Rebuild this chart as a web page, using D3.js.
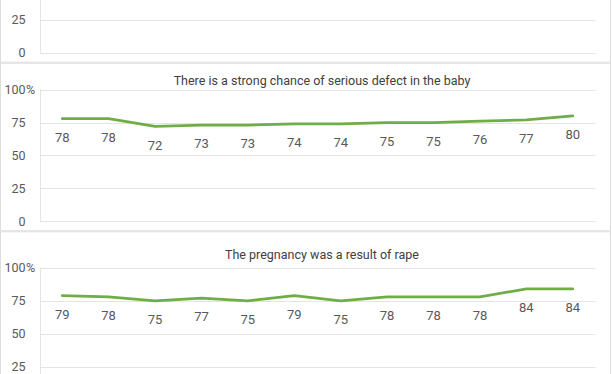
<!DOCTYPE html>
<html>
<head>
<meta charset="utf-8">
<script src="https://cdn.jsdelivr.net/npm/d3@7"></script>
<style>
  body { margin: 0; background: #fff; }
  svg { display: block; font-family: Roboto, "Noto Sans", sans-serif; }
</style>
</head>
<body>
<div id="graph"></div>
<script>
// survey waves (x categories, labels not shown in this crop)
var waves = [1, 2, 3, 4, 5, 6, 7, 8, 9, 10, 11, 12];
var yTicks = [0, 25, 50, 75, 100];

var defectTitle = "There is a strong chance of serious defect in the baby";
var defectValues = [78, 78, 72, 73, 73, 74, 74, 75, 75, 76, 77, 80];

var rapeTitle = "The pregnancy was a result of rape";
var rapeValues = [79, 78, 75, 77, 75, 79, 75, 78, 78, 78, 84, 84];

var w = 612, h = 374;
var green = "#70ad47";

var svg = d3.select("#graph")
            .append("svg")
            .attr("width", w)
            .attr("height", h);

var x = d3.scalePoint()
            .domain(waves)
            .range([39, 596])
            .padding(0.5);

// panels: box top/bottom, zero line and 100% line in pixels
var panels = [
    { top: -200, bottom: 62.2, zero: 52.7, full: -79.9, title: null, titleY: 0, values: null },
    { top: 63.2, bottom: 230.8, zero: 221.3, full: 89.6, title: defectTitle, titleY: 81, values: defectValues },
    { top: 231.8, bottom: 560, zero: 400.2, full: 267.7, title: rapeTitle, titleY: 255, values: rapeValues }
];

panels.forEach(function(p) {
    var g = svg.append("g");

    g.append("rect")
        .attr("x", 0.5)
        .attr("y", p.top)
        .attr("width", 610)
        .attr("height", p.bottom - p.top)
        .attr("fill", "#fff")
        .attr("stroke", "#dddddd");

    var y = d3.scaleLinear()
                .domain([0, 100])
                .range([p.zero, p.full]);

    // only the ticks that fall inside the page
    var shown = yTicks.filter(function(d) { return y(d) > 0 && y(d) < h; });

    // gridlines
    g.append("g")
        .selectAll("line")
        .data(yTicks)
        .enter()
            .append("line")
            .attr("x1", 40)
            .attr("x2", 595.5)
            .attr("y1", function(d) { return Math.round(y(d)) + 0.5; })
            .attr("y2", function(d) { return Math.round(y(d)) + 0.5; })
            .attr("stroke", "#e4e4e4");

    g.append("line")
        .attr("x1", 40.5).attr("x2", 40.5)
        .attr("y1", y(100)).attr("y2", y(0))
        .attr("stroke", "#e4e4e4");

    // tick labels
    g.append("g")
        .selectAll("text")
        .data(shown)
        .enter()
            .append("text")
            .attr("x", 25.5)
            .attr("y", function(d) { return y(d); })
            .attr("dy", "0.35em")
            .attr("text-anchor", "end")
            .attr("fill", "#595959")
            .style("font-size", "12.5px")
            .text(function(d) { return d; });

    if (shown.indexOf(100) >= 0) {
        g.append("text")
            .attr("x", 26)
            .attr("y", y(100))
            .attr("dy", "0.35em")
            .attr("fill", "#595959")
            .style("font-size", "12.5px")
            .text("%");
    }

    if (p.title) {
        g.append("text")
            .attr("x", 322)
            .attr("y", p.titleY)
            .attr("dy", "0.35em")
            .attr("text-anchor", "middle")
            .attr("fill", "#404040")
            .style("font-size", "12.5px")
            .text(p.title);
    }

    if (p.values) {
        var line = d3.line()
            .x(function(d, i) { return x(waves[i]); })
            .y(function(d) { return y(d); });

        g.append("path")
            .datum(p.values)
            .attr("d", line)
            .attr("fill", "none")
            .attr("stroke", green)
            .attr("stroke-width", 2.75)
            .attr("stroke-linejoin", "round")
            .attr("stroke-linecap", "round");

        g.append("g")
            .selectAll("text")
            .data(p.values)
            .enter()
                .append("text")
                .attr("x", function(d, i) { return x(waves[i]); })
                .attr("y", function(d) { return y(d) + 18.7; })
                .attr("dy", "0.35em")
                .attr("text-anchor", "middle")
                .attr("fill", "#595959")
                .style("font-size", "13px")
                .text(function(d) { return d; });
    }
});
</script>
</body>
</html>
